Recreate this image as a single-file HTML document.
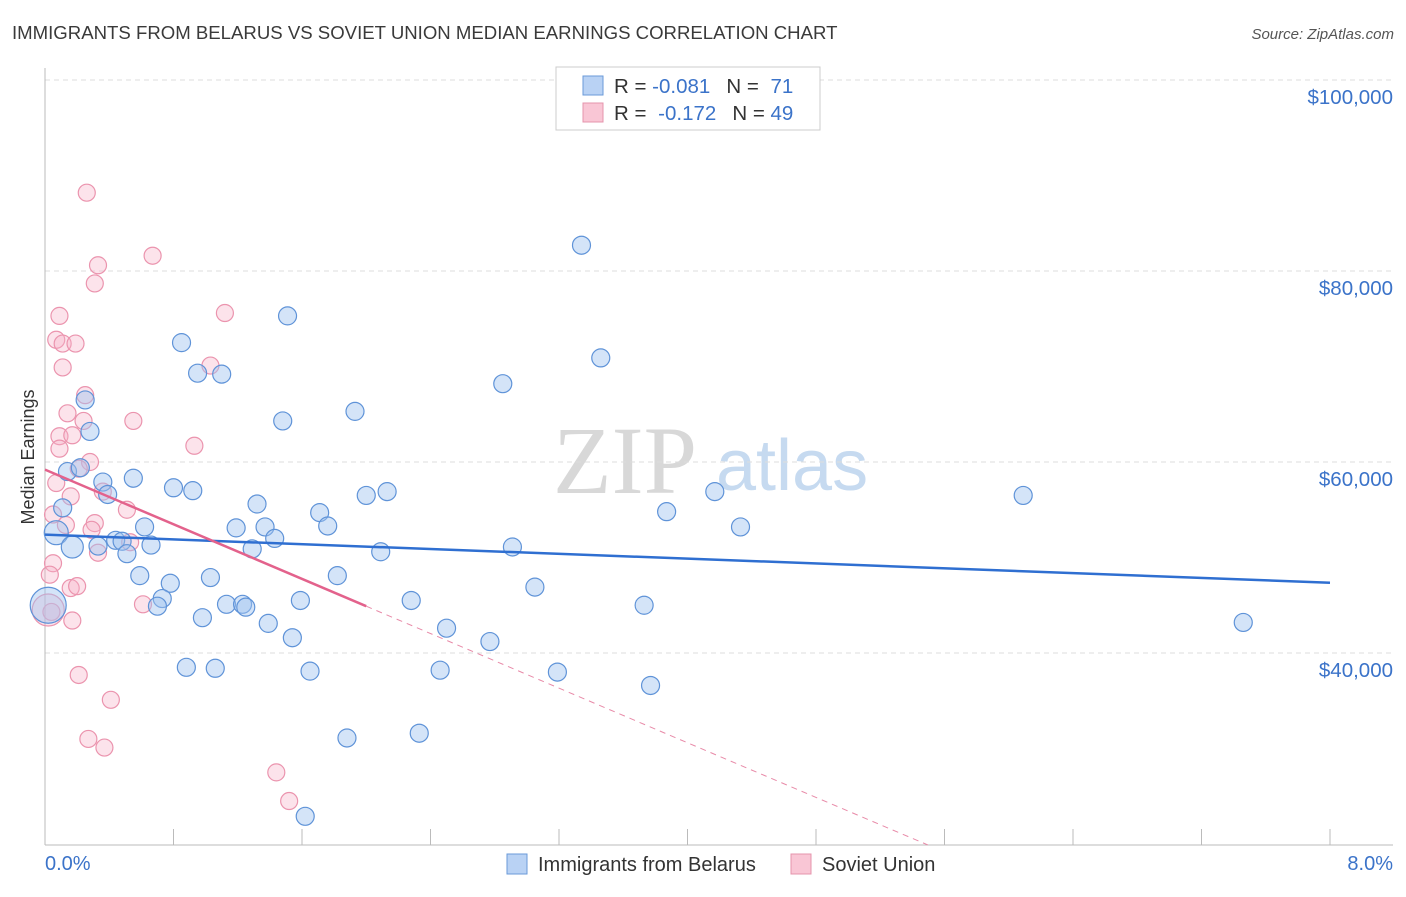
<!DOCTYPE html>
<html><head><meta charset="utf-8"><style>
body{margin:0;background:#fff;font-family:"Liberation Sans",sans-serif;}
svg text{font-family:"Liberation Sans",sans-serif;}
</style></head><body>
<svg id="chart" width="1406" height="892" xmlns="http://www.w3.org/2000/svg">
<text x="12" y="39" font-size="18.6" fill="#3a3a3a">IMMIGRANTS FROM BELARUS VS SOVIET UNION MEDIAN EARNINGS CORRELATION CHART</text>
<text x="1394" y="39" font-size="15" fill="#555" text-anchor="end" font-style="italic">Source: ZipAtlas.com</text>
<text x="553" y="493" font-size="96" fill="#d8d8d8" font-family="Liberation Serif" style="font-family:'Liberation Serif',serif">ZIP</text>
<text x="716" y="490" font-size="72" fill="#c6daf0">atlas</text>
<g id="grid"></g>
<g id="axes"></g>
<g id="pts"></g>
<g id="lines"></g>
<text transform="translate(34,457) rotate(-90)" font-size="18" fill="#333" text-anchor="middle">Median Earnings</text>
<g>
<rect x="556" y="67" width="264" height="63" fill="#fff" stroke="#ccc"/>
<rect x="583" y="76" width="20" height="19" fill="#b9d2f4" stroke="#6a9ad8"/>
<rect x="583" y="103" width="20" height="19" fill="#f9c6d5" stroke="#e594ac"/>
<text x="614" y="93" font-size="20.5" fill="#333">R = <tspan fill="#3b73c9">-0.081</tspan><tspan dx="16">N = </tspan><tspan fill="#3b73c9" dx="6">71</tspan></text>
<text x="614" y="120" font-size="20.5" fill="#333">R = <tspan fill="#3b73c9" dx="6">-0.172</tspan><tspan dx="16">N = </tspan><tspan fill="#3b73c9">49</tspan></text>
</g>
<g>
<rect x="507" y="854" width="20" height="20" fill="#b9d2f4" stroke="#6a9ad8"/>
<text x="538" y="871" font-size="20" fill="#333">Immigrants from Belarus</text>
<rect x="791" y="854" width="20" height="20" fill="#f9c6d5" stroke="#e594ac"/>
<text x="822" y="871" font-size="20" fill="#333">Soviet Union</text>
</g>
</svg>
<script>
const yTicks=[40000,60000,80000,100000];
const yTickLabels=["$40,000","$60,000","$80,000","$100,000"];
const xTickLabels=["0.0%","8.0%"];
const blueX=[3.34,1.51,3.46,0.85,0.95,1.10,2.85,1.93,1.48,0.25,0.28,0.14,0.22,0.55,0.36,0.39,0.80,0.92,1.32,2.00,2.13,4.17,6.09,0.11,1.71,3.87,0.62,1.19,1.37,1.76,4.33,0.07,0.44,0.48,1.43,0.66,0.17,0.33,0.51,1.29,2.09,2.91,0.59,1.03,1.82,0.78,3.05,0.73,0.70,1.13,1.23,1.25,1.59,2.28,3.73,0.98,1.39,2.50,1.54,2.77,7.46,0.88,1.06,1.65,2.46,3.19,3.77,1.88,2.33,1.62,0.02];
const blueY=[82.7,75.3,70.9,72.5,69.3,69.2,68.2,65.3,64.3,66.5,63.2,59.0,59.4,58.3,57.9,56.6,57.3,57.0,55.6,56.5,56.9,56.9,56.5,55.2,54.7,54.8,53.2,53.1,53.2,53.3,53.2,52.6,51.8,51.7,52.0,51.3,51.1,51.2,50.4,50.9,50.6,51.1,48.1,47.9,48.1,47.3,46.9,45.7,44.9,45.1,45.1,44.8,45.5,45.5,45.0,43.7,43.1,42.6,41.6,41.2,43.2,38.5,38.4,38.1,38.2,38.0,36.6,31.1,31.6,22.9,45.0];
const blueSize=[9,9,9,9,9,9,9,9,9,9,9,9,9,9,9,9,9,9,9,9,9,9,9,9,9,9,9,9,9,9,9,12,9,9,9,9,11,9,9,9,9,9,9,9,9,9,9,9,9,9,9,9,9,9,9,9,9,9,9,9,9,9,9,9,9,9,9,9,9,9,18];
const pinkX=[0.26,0.67,0.33,0.31,1.12,0.09,0.07,0.11,0.19,1.03,0.11,0.25,0.55,0.24,0.14,0.09,0.17,0.93,0.09,0.28,0.21,0.07,0.16,0.36,0.51,0.05,0.13,0.31,0.29,0.53,0.33,0.05,0.03,0.16,0.20,0.61,0.04,0.17,0.21,0.41,0.27,0.37,1.44,1.52,0.02];
const pinkY=[88.2,81.6,80.6,78.7,75.6,75.3,72.8,72.4,72.4,70.1,69.9,67.0,64.3,64.3,65.1,62.7,62.8,61.7,61.4,60.0,59.3,57.8,56.4,56.9,55.0,54.5,53.4,53.6,52.9,51.6,50.5,49.4,48.2,46.8,47.0,45.1,44.3,43.4,37.7,35.1,31.0,30.1,27.5,24.5,44.5];
const blueTrend=[52.4,-0.63];
const pinkTrend=[59.2,-7.15];
const NS="http://www.w3.org/2000/svg";
const X0=45,X1=1330,YT=80,YB=653;
function sx(v){return X0+(v/8)*(X1-X0);}
function sy(k){return YT+(100-k)*(YB-YT)/60;}
function mk(t,a,p){const e=document.createElementNS(NS,t);for(const k in a)e.setAttribute(k,a[k]);document.getElementById(p).appendChild(e);return e;}
yTicks.forEach((v,i)=>{
 const g=mk('line',{x1:45,x2:1393,y1:sy(v/1000),y2:sy(v/1000),stroke:'#ddd','stroke-dasharray':'5,4'},'grid');
 
 
 const t=mk('text',{x:1393,y:sy(v/1000)+24,'font-size':20.5,fill:'#3b73c9','text-anchor':'end'},'axes');
 t.textContent=yTickLabels[i];
 
 
});
let a=mk('line',{x1:45,x2:45,y1:68,y2:845,stroke:'#bbb'},'axes');


a=mk('line',{x1:45,x2:1393,y1:845,y2:845,stroke:'#bbb'},'axes');


for(let i=0;i<=10;i++){const t=mk('line',{x1:sx(i*0.8),x2:sx(i*0.8),y1:829,y2:845,stroke:'#bbb'},'axes');
 
 }
let xl=mk('text',{x:45,y:870,'font-size':20,fill:'#3b73c9'},'axes');xl.textContent=xTickLabels[0];


xl=mk('text',{x:1393,y:870,'font-size':20,fill:'#3b73c9','text-anchor':'end'},'axes');xl.textContent=xTickLabels[1];


pinkX.forEach((x,i)=>{const c=mk('circle',{cx:sx(x),cy:sy(pinkY[i]),r:i==pinkX.length-1?16:8.5,fill:'rgba(246,176,198,0.35)',stroke:'#eb94ae','stroke-width':1.2},'pts');
 
 });
blueX.forEach((x,i)=>{const c=mk('circle',{cx:sx(x),cy:sy(blueY[i]),r:blueSize[i],fill:'rgba(160,196,240,0.45)',stroke:'#5f93d8','stroke-width':1.2},'pts');
 
 });
let l=mk('line',{x1:sx(0),y1:sy(blueTrend[0]),x2:sx(8),y2:sy(blueTrend[0]+8*blueTrend[1]),stroke:'#2f6fd1','stroke-width':2.5},'lines');


const xe=(19.9-pinkTrend[0])/pinkTrend[1];
l=mk('line',{x1:sx(0),y1:sy(pinkTrend[0]),x2:sx(2),y2:sy(pinkTrend[0]+2*pinkTrend[1]),stroke:'#e3628c','stroke-width':2.5},'lines');


l=mk('line',{x1:sx(2),y1:sy(pinkTrend[0]+2*pinkTrend[1]),x2:sx(xe),y2:sy(pinkTrend[0]+xe*pinkTrend[1]),stroke:'#e88aa8','stroke-width':1,'stroke-dasharray':'6,5'},'lines');


</script>
</body></html>
